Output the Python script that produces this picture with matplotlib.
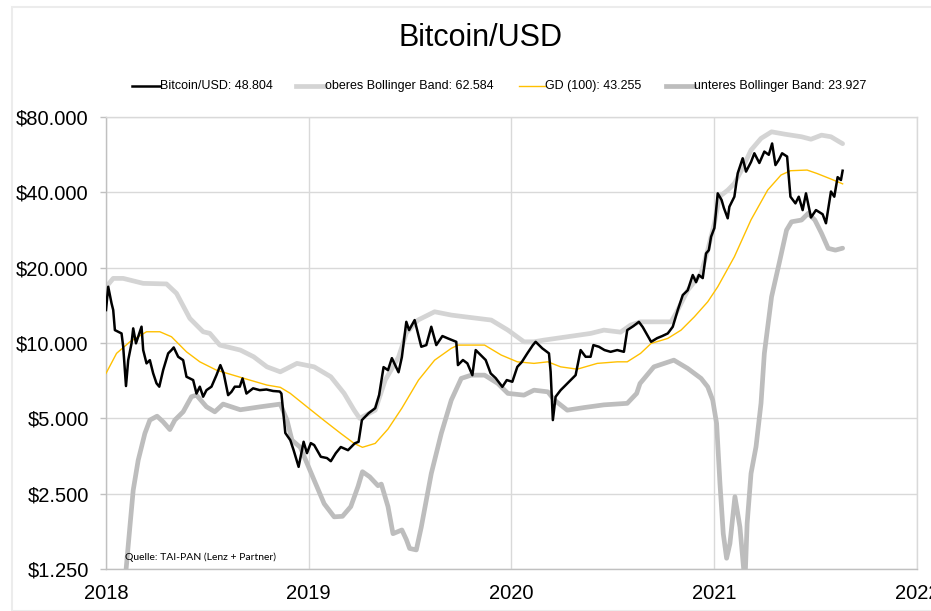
import matplotlib
matplotlib.use("Agg")
import matplotlib.pyplot as plt
import matplotlib.ticker as mticker
from matplotlib.lines import Line2D
from matplotlib.patches import Rectangle
import pandas as pd

plt.rcParams['font.family'] = ['Liberation Sans', 'DejaVu Sans']

title = "Bitcoin/USD"
source_note = "Quelle: TAI-PAN (Lenz + Partner)"

price_dates = [
    "2018-01-01", "2018-01-05", "2018-01-11", "2018-01-14", "2018-01-17", "2018-01-23",
    "2018-01-29", "2018-02-01", "2018-02-06", "2018-02-10", "2018-02-16", "2018-02-19",
    "2018-02-24", "2018-02-28", "2018-03-06", "2018-03-09", "2018-03-15", "2018-03-21",
    "2018-03-27", "2018-04-02", "2018-04-07", "2018-04-14", "2018-04-23", "2018-04-29",
    "2018-05-03", "2018-05-11", "2018-05-20", "2018-05-26", "2018-06-07", "2018-06-13",
    "2018-06-19", "2018-06-25", "2018-07-01", "2018-07-10", "2018-07-19", "2018-07-26",
    "2018-08-01", "2018-08-09", "2018-08-15", "2018-08-21", "2018-08-30", "2018-09-04",
    "2018-09-11", "2018-09-23", "2018-10-05", "2018-10-17", "2018-10-29", "2018-11-10",
    "2018-11-13", "2018-11-20", "2018-11-29", "2018-12-05",
    "2018-12-14", "2018-12-23", "2018-12-29", "2019-01-05", "2019-01-11", "2019-01-23",
    "2019-02-03", "2019-02-10", "2019-02-19", "2019-02-28", "2019-03-13", "2019-03-25",
    "2019-04-01", "2019-04-07", "2019-04-19", "2019-05-01", "2019-05-08", "2019-05-16",
    "2019-05-24", "2019-05-31", "2019-06-12", "2019-06-18", "2019-06-26", "2019-07-01",
    "2019-07-11", "2019-07-23", "2019-08-01", "2019-08-10", "2019-08-19", "2019-08-30",
    "2019-09-09", "2019-09-24", "2019-09-27", "2019-10-06", "2019-10-14", "2019-10-23",
    "2019-10-29", "2019-11-07", "2019-11-16", "2019-11-25", "2019-12-04", "2019-12-16",
    "2019-12-24", "2020-01-03", "2020-01-12", "2020-01-20", "2020-01-30", "2020-02-09",
    "2020-02-14", "2020-02-26", "2020-03-09", "2020-03-12", "2020-03-16", "2020-03-21",
    "2020-03-30", "2020-04-05", "2020-04-17", "2020-04-26", "2020-05-05", "2020-05-14",
    "2020-05-23", "2020-05-28", "2020-06-07", "2020-06-17", "2020-06-28", "2020-07-10",
    "2020-07-22", "2020-07-28", "2020-08-08", "2020-08-18", "2020-08-25", "2020-09-09",
    "2020-09-20", "2020-09-29", "2020-10-09", "2020-10-18", "2020-10-27", "2020-11-05",
    "2020-11-14", "2020-11-23", "2020-11-29", "2020-12-04", "2020-12-11", "2020-12-17",
    "2020-12-22", "2020-12-26", "2021-01-01", "2021-01-07", "2021-01-14", "2021-01-18",
    "2021-01-25", "2021-01-28", "2021-02-06", "2021-02-12", "2021-02-21", "2021-02-27",
    "2021-03-08", "2021-03-14", "2021-03-23", "2021-04-01", "2021-04-09", "2021-04-15",
    "2021-04-21", "2021-04-27", "2021-05-03", "2021-05-12", "2021-05-18", "2021-05-27",
    "2021-06-02", "2021-06-09", "2021-06-15", "2021-06-24", "2021-07-03", "2021-07-15",
    "2021-07-21", "2021-07-30", "2021-08-05", "2021-08-11", "2021-08-17", "2021-08-20",
]
price_values = [
    13540, 16780, 14400, 13540, 11260, 11090,
    10920, 9660, 6730, 8540, 9970, 11440,
    9970, 10590, 11620, 9370, 8290, 8540,
    7560, 6900, 6690, 7800, 9090, 9370,
    9600, 8810, 8540, 7330, 7110, 6280,
    6690, 6100, 6480, 6690, 7440, 8160,
    7560, 6190, 6380, 6690, 6690, 7220,
    6280, 6590, 6480, 6520, 6430, 6400,
    6280, 4370, 4090, 3730,
    3200, 4030, 3630, 3980, 3910, 3510,
    3470, 3370, 3630, 3840, 3730, 3970,
    4030, 4920, 5240, 5490, 6190, 8010,
    7790, 8700, 7640, 8780, 12150, 11260,
    12350, 9660, 9810, 11610, 9810, 10660,
    10430, 10110, 8160, 8550, 8290, 7440,
    9370, 8950, 8550, 7560, 7240, 6680,
    7110, 7000, 8030, 8390, 9090, 9810,
    10110, 9520, 9090, 7670, 4920, 6100,
    6480, 6680, 7110, 7440, 9370, 8810,
    8810, 9810, 9660, 9370, 9220, 9370,
    9220, 11260, 11680, 12150, 11570, 10110,
    10460, 10660, 10920, 11610, 13540, 15540,
    16250, 18690, 17500, 18690, 18170, 22800,
    23500, 26580, 28800, 39630, 37270, 34700,
    31500, 35030, 38420, 47660, 54730, 48400,
    52900, 57300, 52400, 58200, 56500, 62700,
    51400, 53900, 57300, 55600, 38420, 36140,
    38420, 33970, 39630, 31740, 33970, 32700,
    30100, 40300, 38420, 46000, 44800, 48804,
]

upper_dates = [
    "2018-01-01", "2018-01-14", "2018-02-01", "2018-03-09", "2018-04-20", "2018-05-08",
    "2018-06-01", "2018-06-25", "2018-07-07", "2018-07-25", "2018-08-31", "2018-09-24",
    "2018-10-18", "2018-11-11", "2018-11-23", "2018-12-11", "2019-01-11", "2019-02-10",
    "2019-03-06", "2019-03-24", "2019-04-03", "2019-05-01", "2019-05-19", "2019-06-12",
    "2019-06-26", "2019-07-17", "2019-08-16", "2019-09-15", "2019-10-09", "2019-11-26",
    "2019-12-26", "2020-01-24", "2020-02-11", "2020-02-29", "2020-04-11", "2020-05-23",
    "2020-06-16", "2020-07-16", "2020-08-03", "2020-08-21", "2020-09-09", "2020-10-15",
    "2020-10-24", "2020-11-14", "2020-12-08", "2020-12-20", "2021-01-01", "2021-01-10",
    "2021-01-25", "2021-02-06", "2021-02-19", "2021-03-08", "2021-03-26", "2021-04-14",
    "2021-05-08", "2021-06-07", "2021-06-24", "2021-07-13", "2021-07-30", "2021-08-14",
    "2021-08-20",
]
upper_values = [
    16730, 18120, 18120, 17310, 17220, 15790,
    12540, 11090, 10930, 9810, 9370, 8810,
    8030, 7670, 7910, 8290, 8030, 7330,
    6290, 5390, 5000, 5390, 7110, 8780,
    10950, 12350, 13330, 12930, 12730, 12350,
    11260, 10110, 10110, 10270, 10590, 10920,
    11260, 11050, 11790, 12150, 12150, 12150,
    13160, 16250, 18970, 23520, 30060, 38420,
    40800, 43400, 49100, 59000, 65700, 69800,
    68300, 66700, 65200, 67700, 66700, 63700,
    62584,
]

gd_dates = [
    "2018-01-01", "2018-01-20", "2018-02-13", "2018-03-15", "2018-04-08", "2018-04-29",
    "2018-05-26", "2018-06-19", "2018-07-19", "2018-08-18", "2018-09-17", "2018-10-18",
    "2018-11-11", "2018-11-29", "2018-12-29", "2019-01-28", "2019-02-28", "2019-03-24",
    "2019-04-08", "2019-05-01", "2019-05-24", "2019-06-18", "2019-07-18", "2019-08-16",
    "2019-09-15", "2019-09-27", "2019-11-14", "2019-12-14", "2020-01-12", "2020-02-11",
    "2020-03-07", "2020-03-30", "2020-04-29", "2020-06-04", "2020-07-10", "2020-07-28",
    "2020-08-21", "2020-09-09", "2020-10-09", "2020-11-02", "2020-11-26", "2020-12-20",
    "2021-01-07", "2021-02-06", "2021-03-08", "2021-04-07", "2021-05-01", "2021-05-18",
    "2021-06-17", "2021-07-05", "2021-07-29", "2021-08-20",
]
gd_values = [
    7560, 9090, 10110, 11090, 11090, 10590,
    9220, 8410, 7790, 7440, 7110, 6790,
    6650, 6290, 5560, 4920, 4350, 3970,
    3830, 3970, 4530, 5490, 7110, 8540,
    9520, 9810, 9810, 8950, 8410, 8290,
    8410, 8030, 7860, 8290, 8410, 8410,
    9090, 9960, 10430, 11260, 12730, 14610,
    16770, 22110, 31060, 40850, 46900, 48800,
    49100, 47560, 45300, 43255,
]

lower_dates = [
    "2018-02-04", "2018-02-13", "2018-02-19", "2018-02-28", "2018-03-12", "2018-03-21",
    "2018-04-03", "2018-04-14", "2018-04-26", "2018-05-05", "2018-05-20", "2018-06-04",
    "2018-06-13", "2018-07-01", "2018-07-16", "2018-07-31", "2018-08-31", "2018-10-06",
    "2018-11-11", "2018-11-23", "2018-12-02", "2018-12-17", "2019-01-11", "2019-01-29",
    "2019-02-16", "2019-03-03", "2019-03-18", "2019-03-31", "2019-04-08", "2019-04-21",
    "2019-05-06", "2019-05-12", "2019-05-24", "2019-06-02", "2019-06-18", "2019-06-26",
    "2019-07-02", "2019-07-14", "2019-07-23", "2019-08-10", "2019-08-28", "2019-09-15",
    "2019-10-03", "2019-10-21", "2019-11-14", "2019-12-08", "2019-12-26", "2020-01-24",
    "2020-02-11", "2020-03-07", "2020-03-19", "2020-04-11", "2020-05-11", "2020-06-16",
    "2020-07-28", "2020-08-14", "2020-08-20", "2020-09-14", "2020-10-20", "2020-11-14",
    "2020-12-08", "2020-12-20", "2020-12-29", "2021-01-05", "2021-01-11", "2021-01-17",
    "2021-01-23", "2021-01-29", "2021-02-07", "2021-02-16", "2021-02-25", "2021-03-01",
    "2021-03-08", "2021-03-17", "2021-03-26", "2021-04-01", "2021-04-14", "2021-04-29",
    "2021-05-11", "2021-05-20", "2021-06-07", "2021-06-19", "2021-07-01", "2021-07-13",
    "2021-07-25", "2021-08-07", "2021-08-20",
]
lower_values = [
    1100, 1840, 2580, 3400, 4350, 4920,
    5100, 4840, 4510, 4920, 5310, 6100,
    6190, 5560, 5310, 5700, 5410, 5560,
    5700, 4920, 4090, 3830, 2830, 2280,
    2020, 2030, 2220, 2670, 3060, 2920,
    2690, 2730, 2220, 1730, 1790, 1640,
    1510, 1490, 1840, 3010, 4350, 5910,
    7220, 7440, 7440, 6890, 6290, 6190,
    6480, 6380, 5910, 5390, 5520, 5660,
    5740, 6290, 6890, 8030, 8540, 7910,
    7220, 6680, 5910, 4770, 2750, 1730,
    1380, 1580, 2430, 1840, 1100, 1900,
    3010, 3850, 5740, 9090, 15300, 21450,
    28260, 30500, 31000, 32970, 31000, 27430,
    23890, 23500, 23927,
]

y_ticks = [1250, 2500, 5000, 10000, 20000, 40000, 80000]
y_tick_labels = ["$1.250", "$2.500", "$5.000", "$10.000", "$20.000", "$40.000", "$80.000"]
x_tick_years = ["2018", "2019", "2020", "2021", "2022"]

legend_labels = [
    "Bitcoin/USD: 48.804",
    "oberes Bollinger Band: 62.584",
    "GD (100): 43.255",
    "unteres Bollinger Band: 23.927",
]

W, H = 931, 611
fig = plt.figure(figsize=(W / 100, H / 100), dpi=100)
fig.patch.set_facecolor("white")

# outer chart frame
fig.add_artist(Rectangle((12 / W, 0), 1.2, 1 - 7 / H, transform=fig.transFigure,
                         fill=False, edgecolor="#ececec", linewidth=1.5))

ax = fig.add_axes([106 / W, 1 - 569 / H, (917 - 106) / W, (569 - 117) / H])

c_price = "#000000"
c_upper = "#d4d4d4"
c_gd = "#ffc000"
c_lower = "#bdbdbd"

ax.plot(pd.to_datetime(upper_dates), upper_values, color=c_upper, lw=3.4, zorder=2,
        solid_capstyle="round", solid_joinstyle="round")
ax.plot(pd.to_datetime(lower_dates), lower_values, color=c_lower, lw=3.4, zorder=3,
        solid_capstyle="round", solid_joinstyle="round")
ax.plot(pd.to_datetime(gd_dates), gd_values, color=c_gd, lw=1.0, zorder=4)
ax.plot(pd.to_datetime(price_dates), price_values, color=c_price, lw=1.8, zorder=5,
        solid_joinstyle="round")

ax.set_yscale("log", base=2)
ax.set_ylim(1250, 80000)
ax.yaxis.set_major_locator(mticker.FixedLocator(y_ticks))
ax.yaxis.set_major_formatter(mticker.FixedFormatter(y_tick_labels))
ax.yaxis.set_minor_locator(mticker.NullLocator())

xt = pd.to_datetime([y + "-01-01" for y in x_tick_years])
ax.set_xlim(xt[0], xt[-1])
ax.set_xticks(xt)
ax.set_xticklabels(x_tick_years)
ax.xaxis.set_minor_locator(mticker.NullLocator())

ax.grid(True, color="#d9d9d9", lw=1.0, zorder=0)
ax.set_axisbelow(True)
for side in ["left", "bottom"]:
    ax.spines[side].set_color("#c0c0c0")
    ax.spines[side].set_linewidth(1.0)
for side in ["right", "top"]:
    ax.spines[side].set_color("#d9d9d9")
    ax.spines[side].set_linewidth(1.0)

ax.tick_params(axis="y", length=4.5, width=1, color="#c0c0c0", pad=8, labelsize=14.5,
               labelcolor="#000000")
ax.tick_params(axis="x", length=0, pad=11, labelsize=14.5, labelcolor="#000000")

# title
fig.text(480 / W, 1 - 38 / H, title, ha="center", va="center", fontsize=22)

# legend (manual, as in reference)
leg_y = 1 - 86 / H
handle_x = [(132, 160), (296, 325), (519, 545), (666, 694)]
leg_colors = [c_price, c_upper, c_gd, c_lower]
leg_lw = [1.8, 3.4, 1.0, 3.4]
for (x0, x1), col, lw, lab in zip(handle_x, leg_colors, leg_lw, legend_labels):
    fig.add_artist(Line2D([x0 / W, x1 / W], [leg_y, leg_y], transform=fig.transFigure,
                          color=col, lw=lw))
    fig.text(x1 / W, leg_y, lab, ha="left", va="center", fontsize=9)

# source note
fig.text(125 / W, 1 - 557 / H, source_note, fontsize=7.5,
         family=["Lato", "DejaVu Sans"], ha="left", va="center")

fig.savefig("out.png", dpi=100)
